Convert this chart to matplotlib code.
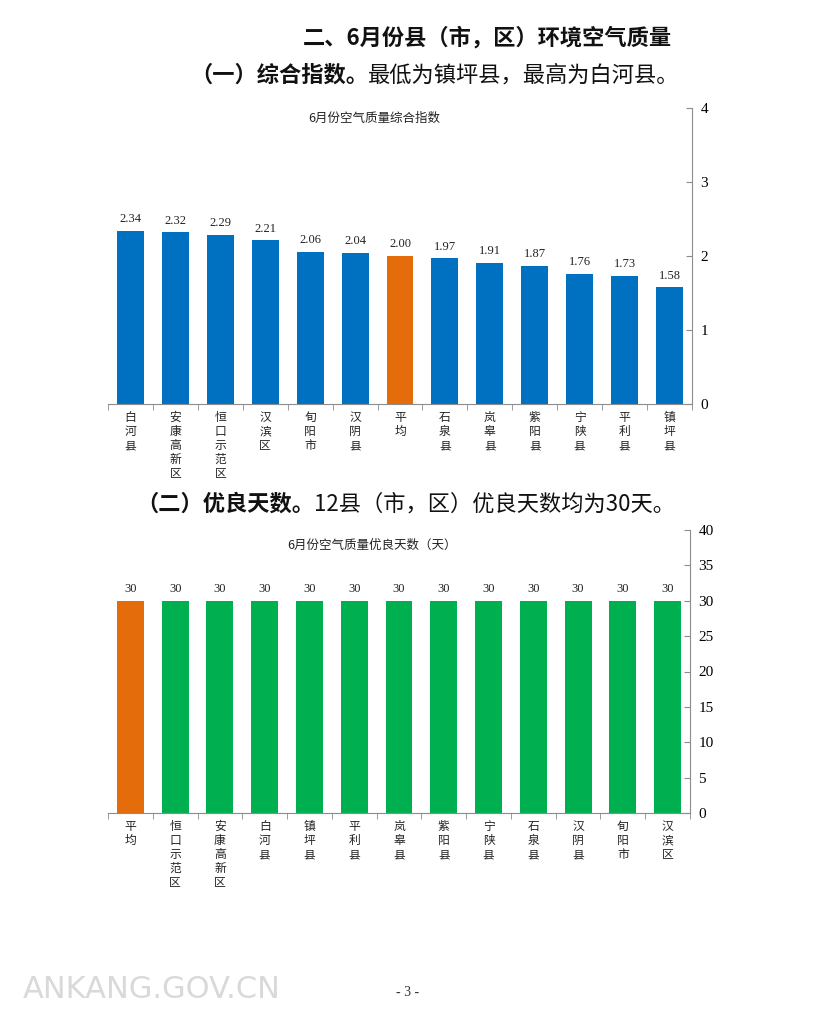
import matplotlib
matplotlib.use('Agg')
import numpy as np
import matplotlib.pyplot as plt

plt.rcParams['font.family'] = ['Noto Sans CJK SC', 'DejaVu Sans']

# chart 1 - composite index (order as shown, axis on the right)
cats1 = ['白河县', '安康高新区', '恒口示范区', '汉滨区', '旬阳市', '汉阴县', '平均',
         '石泉县', '岚皋县', '紫阳县', '宁陕县', '平利县', '镇坪县']
vals1 = [2.34, 2.32, 2.29, 2.21, 2.06, 2.04, 2.00, 1.97, 1.91, 1.87, 1.76, 1.73, 1.58]

# chart 2 - good air days
cats2 = ['平均', '恒口示范区', '安康高新区', '白河县', '镇坪县', '平利县', '岚皋县',
         '紫阳县', '宁陕县', '石泉县', '汉阴县', '旬阳市', '汉滨区']
vals2 = [30, 30, 30, 30, 30, 30, 30, 30, 30, 30, 30, 30, 30]

BLUE = '#0070C0'
GREEN = '#00B050'
ORANGE = '#E46C0A'
AXC = '#8c8c8c'
W, H = 827, 1017

fig = plt.figure(figsize=(W / 100, H / 100), dpi=100)
bg = fig.add_axes([0, 0, 1, 1])
bg.set_xlim(0, W)
bg.set_ylim(H, 0)
bg.axis('off')


def bar_chart(box, cats, vals, colors, ymax, ystep, fmt, title, title_xy):
    x0, x1, ytop, ybot = box
    ax = fig.add_axes([x0 / W, 1 - ybot / H, (x1 - x0) / W, (ybot - ytop) / H])
    ax.set_facecolor('none')
    x = np.arange(len(cats))
    ax.bar(x, vals, width=0.6, color=colors)
    for xi, v in zip(x, vals):
        ax.annotate(fmt.format(v), (xi, v), xytext=(0, 4), textcoords='offset points',
                    ha='center', va='bottom', fontsize=9,
                    family=['Liberation Serif'], color='#222222')
    ax.set_xlim(-0.5, len(cats) - 0.5)
    ax.set_ylim(0, ymax)
    ax.set_yticks(np.arange(0, ymax + 0.01, ystep))
    ax.yaxis.tick_right()
    ax.tick_params(axis='y', direction='in', length=4, color=AXC, pad=6,
                   labelsize=11)
    for lab in ax.get_yticklabels():
        lab.set_family(['Liberation Serif'])
    ax.set_xticks(x)
    ax.set_xticklabels(['\n'.join(c) for c in cats], fontsize=8.5, linespacing=1.1,
                       va='top', color='#222222')
    ax.tick_params(axis='x', length=0, pad=5)
    ax.set_xticks(np.arange(-0.5, len(cats)), minor=True)
    ax.tick_params(axis='x', which='minor', direction='out', length=4, color=AXC)
    for s in ['left', 'top']:
        ax.spines[s].set_visible(False)
    ax.spines['right'].set_color(AXC)
    ax.spines['bottom'].set_color(AXC)
    bg.text(title_xy[0], title_xy[1], title, ha='center', va='center', fontsize=9,
            color='#222222')
    return ax


bar_chart((108, 692, 108, 404), cats1, vals1,
          [ORANGE if c == '平均' else BLUE for c in cats1],
          4, 1, '{:.2f}', '6月份空气质量综合指数', (374, 118))
bar_chart((108, 690, 530, 813), cats2, vals2,
          [ORANGE if c == '平均' else GREEN for c in cats2],
          40, 5, '{:d}', '6月份空气质量优良天数（天）', (372, 545))

# headings
bg.text(672, 38, '二、6月份县（市，区）环境空气质量', ha='right', va='center',
        fontsize=16, weight='bold', color='#111111')
t1 = bg.text(190, 75, '（一）综合指数。', ha='left', va='center', fontsize=16,
             weight='bold', color='#111111')
bg.annotate('最低为镇坪县，最高为白河县。', xy=(1, 0.5), xycoords=t1, ha='left',
            va='center', fontsize=16, color='#111111')
t2 = bg.text(136, 504, '（二）优良天数。', ha='left', va='center', fontsize=16,
             weight='bold', color='#111111')
bg.annotate('12县（市，区）优良天数均为30天。', xy=(1, 0.5), xycoords=t2, ha='left',
            va='center', fontsize=16, color='#111111')

# footer
bg.text(408, 993, '- 3 -', ha='center', va='center', fontsize=10,
        family=['Liberation Serif'], color='#333333')
bg.text(152, 990, 'ANKANG.GOV.CN', ha='center', va='center', fontsize=22,
        family=['DejaVu Sans'], color='#d9d9d9')

fig.savefig('out.png', dpi=100)
